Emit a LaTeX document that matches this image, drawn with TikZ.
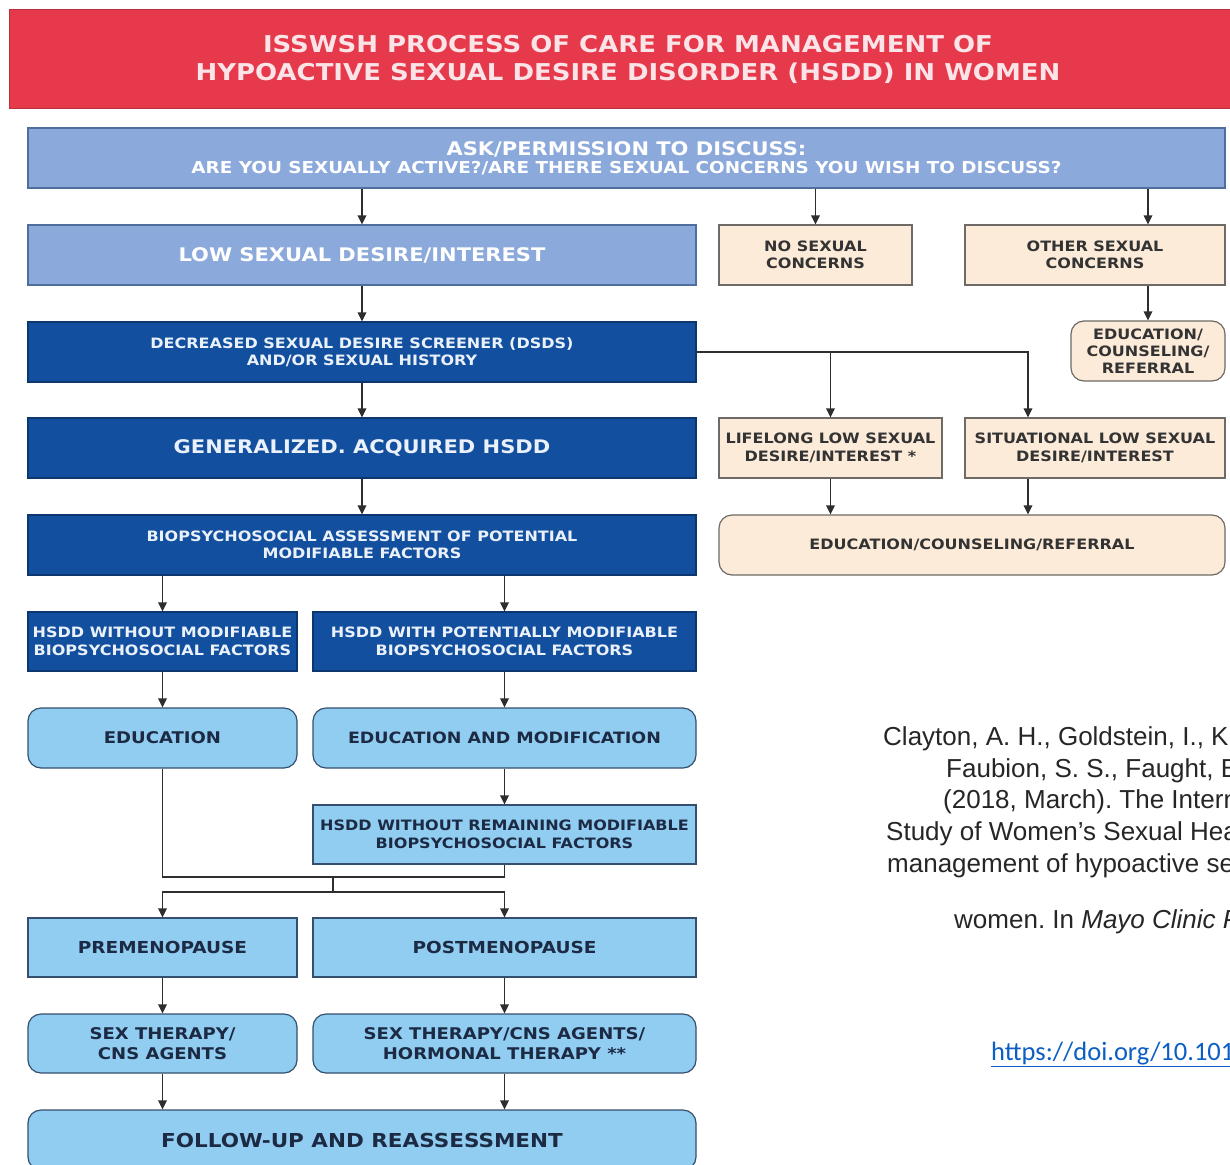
\documentclass[tikz,border=0pt]{standalone}
\usepackage{fontspec}
\setmainfont{Liberation Sans}
\newfontfamily\boxfont[FakeStretch=1.12]{DejaVu Sans}
\newfontfamily\headfont[FakeStretch=1.12]{DejaVu Sans}
\newfontfamily\linkfont{Carlito}
\usetikzlibrary{arrows.meta}
\frenchspacing

\definecolor{hdred}{HTML}{E6394B}
\definecolor{hdedge}{HTML}{B92F3D}
\definecolor{hdtext}{HTML}{FBE4E7}
\definecolor{askfill}{HTML}{8CA9DB}
\definecolor{askedge}{HTML}{4F6E9E}
\definecolor{dkfill}{HTML}{124F9E}
\definecolor{dkedge}{HTML}{0C3670}
\definecolor{dktext}{HTML}{EAF1FA}
\definecolor{skyfill}{HTML}{90CDF1}
\definecolor{skyedge}{HTML}{34506E}
\definecolor{skytext}{HTML}{1C2A44}
\definecolor{pcfill}{HTML}{FCEBD9}
\definecolor{pcedge}{HTML}{6E6A66}
\definecolor{pctext}{HTML}{333333}
\definecolor{lncol}{HTML}{2E2E2E}
\definecolor{citecol}{HTML}{262626}
\definecolor{linkcol}{HTML}{0B5FC4}

\tikzset{
  box/.style={draw, line width=1.2pt, inner sep=0pt, align=center},
  sz/.style 2 args={font=\boxfont\bfseries\fontsize{#1}{#2}\selectfont},
  askbox/.style={box, fill=askfill, draw=askedge, text=white},
  dkbox/.style={box, fill=dkfill, draw=dkedge, text=dktext},
  skybox/.style={box, fill=skyfill, draw=skyedge, text=skytext},
  pcbox/.style={box, fill=pcfill, draw=pcedge, text=pctext},
  rnd/.style={rounded corners=13pt},
  arr/.style={draw=lncol, line width=1.8pt, -{Triangle[length=9pt,width=8.5pt]}},
  ln/.style={draw=lncol, line width=1.8pt},
  citeline/.style={anchor=base west, inner sep=0pt, text=citecol,
    font=\fontsize{26}{30}\selectfont},
}

\begin{document}
\begin{tikzpicture}[x=1pt,y=-1pt]
\useasboundingbox (0,0) rectangle (1230,1164);
\clip (0,0) rectangle (1230,1164);
\fill[white] (0,0) rectangle (1230,1164);

% header bar
\node[fill=hdred, draw=hdedge, line width=1pt, inner sep=0pt, minimum width=1238pt,
      minimum height=98pt, text=hdtext, align=center,
      font=\headfont\bfseries\fontsize{23.2}{28}\selectfont] (title) at (628,59)
  {ISSWSH PROCESS OF CARE FOR MANAGEMENT OF\\HYPOACTIVE SEXUAL DESIRE DISORDER (HSDD) IN WOMEN};

% first question
\node[askbox, minimum width=1197pt, minimum height=60pt] (ask) at (626.5,158)
  {{\boxfont\bfseries\fontsize{18.75}{22}\selectfont ASK/PERMISSION TO DISCUSS:}\\[3pt]
   {\boxfont\bfseries\fontsize{16.4}{20}\selectfont ARE YOU SEXUALLY ACTIVE?/ARE THERE SEXUAL CONCERNS YOU WISH TO DISCUSS?}};

% main column
\node[askbox, sz={18.75}{23}, minimum width=668pt, minimum height=60pt] (low) at (362,255)
  {LOW SEXUAL DESIRE/INTEREST};
\node[dkbox, sz={14.3}{17.5}, minimum width=668pt, minimum height=60pt] (dsds) at (362,352)
  {DECREASED SEXUAL DESIRE SCREENER (DSDS)\\AND/OR SEXUAL HISTORY};
\node[dkbox, sz={18.75}{23}, minimum width=668pt, minimum height=60pt] (gen) at (362,448)
  {GENERALIZED. ACQUIRED HSDD};
\node[dkbox, sz={14.3}{17.5}, minimum width=668pt, minimum height=60pt] (bio) at (362,545)
  {BIOPSYCHOSOCIAL ASSESSMENT OF POTENTIAL\\MODIFIABLE FACTORS};

\node[dkbox, sz={14.3}{17.5}, minimum width=269pt, minimum height=59pt] (hwo) at (162.5,641.5)
  {HSDD WITHOUT MODIFIABLE\\BIOPSYCHOSOCIAL FACTORS};
\node[dkbox, sz={14.3}{17.5}, minimum width=383pt, minimum height=59pt] (hw) at (504.5,641.5)
  {HSDD WITH POTENTIALLY MODIFIABLE\\BIOPSYCHOSOCIAL FACTORS};

\node[skybox, rnd, sz={16.1}{20}, minimum width=269pt, minimum height=60pt] (edu) at (162.5,738)
  {EDUCATION};
\node[skybox, rnd, sz={15.6}{20}, minimum width=383pt, minimum height=60pt] (edm) at (504.5,738)
  {EDUCATION AND MODIFICATION};
\node[skybox, sz={14.3}{17.5}, minimum width=383pt, minimum height=59pt] (hrem) at (504.5,834.5)
  {HSDD WITHOUT REMAINING MODIFIABLE\\BIOPSYCHOSOCIAL FACTORS};

\node[skybox, sz={16.5}{20}, minimum width=269pt, minimum height=59pt] (pre) at (162.5,947.5)
  {PREMENOPAUSE};
\node[skybox, sz={16.5}{20}, minimum width=383pt, minimum height=59pt] (post) at (504.5,947.5)
  {POSTMENOPAUSE};
\node[skybox, rnd, sz={16.1}{20}, minimum width=269pt, minimum height=59pt] (sex1) at (162.5,1043.5)
  {SEX THERAPY/\\CNS AGENTS};
\node[skybox, rnd, sz={16.1}{20}, minimum width=383pt, minimum height=59pt] (sex2) at (504.5,1043.5)
  {SEX THERAPY/CNS AGENTS/\\HORMONAL THERAPY **};
\node[skybox, rnd, sz={19.2}{23}, minimum width=668pt, minimum height=60pt] (fu) at (362,1140)
  {FOLLOW-UP AND REASSESSMENT};

% right-hand branches
\node[pcbox, sz={14.3}{17.5}, minimum width=193pt, minimum height=60pt] (nosc) at (815.5,255)
  {NO SEXUAL\\CONCERNS};
\node[pcbox, sz={14.3}{17.5}, minimum width=260pt, minimum height=60pt] (other) at (1095,255)
  {OTHER SEXUAL\\CONCERNS};
\node[pcbox, rnd, sz={14.3}{17}, minimum width=154pt, minimum height=60pt] (ecr1) at (1148,351)
  {EDUCATION/\\COUNSELING/\\REFERRAL};
\node[pcbox, sz={14.3}{17.5}, minimum width=223pt, minimum height=60pt] (life) at (830.5,448)
  {LIFELONG LOW SEXUAL\\DESIRE/INTEREST *};
\node[pcbox, sz={14.3}{17.5}, minimum width=260pt, minimum height=60pt] (situ) at (1095,448)
  {SITUATIONAL LOW SEXUAL\\DESIRE/INTEREST};
\node[pcbox, rnd, sz={14.3}{17.5}, minimum width=506pt, minimum height=60pt] (ecr2) at (972,545)
  {EDUCATION/COUNSELING/REFERRAL};

\coordinate (sx) at (1028,0);
\coordinate (jt) at (333,877);
\coordinate (jb) at (333,892);

% connectors
\draw[arr] (ask.south -| low) -- (low.north);
\draw[arr] (ask.south -| nosc) -- (nosc.north);
\draw[arr] (ask.south -| ecr1) -- (other.north -| ecr1);
\draw[arr] (other.south -| ecr1) -- (ecr1.north);
\draw[arr] (low.south) -- (dsds.north);
\draw[arr] (dsds.south) -- (gen.north);
\draw[arr] (gen.south) -- (bio.north);
\draw[arr] (dsds.east) -| (situ.north -| sx);
\draw[arr] (dsds.east -| life) -- (life.north);
\draw[arr] (life.south) -- (ecr2.north -| life);
\draw[arr] (situ.south -| sx) -- (ecr2.north -| sx);
\draw[arr] (bio.south -| hwo) -- (hwo.north);
\draw[arr] (bio.south -| hw) -- (hw.north);
\draw[arr] (hwo.south) -- (edu.north);
\draw[arr] (hw.south) -- (edm.north);
\draw[arr] (edm.south) -- (hrem.north);
\draw[ln] (edu.south) -- (edu.south |- jt) -- (hrem.south |- jt) -- (hrem.south);
\draw[ln] (jt) -- (jb);
\draw[arr] (jb) -| (pre.north);
\draw[arr] (jb) -| (post.north);
\draw[arr] (pre.south) -- (sex1.north);
\draw[arr] (post.south) -- (sex2.north);
\draw[arr] (sex1.south) -- (fu.north -| sex1);
\draw[arr] (sex2.south) -- (fu.north -| sex2);

% reference text
\node[citeline] (c1) at (883,745) {Clayton, A. H., Goldstein, I., Kim,};
\node[citeline] (c2) at (946,777) {Faubion, S. S., Faught, B.};
\node[citeline] (c3) at (943,808) {(2018, March). The International};
\node[citeline] (c4) at (886,840) {Study of Women's Sexual Health};
\node[citeline] (c5) at (887,872) {management of hypoactive sexual};
\node[citeline] (c6) at (954,928) {women. In \textit{Mayo Clinic Proceedings}};
\node[citeline, text=linkcol, font=\linkfont\fontsize{26.5}{30}\selectfont] (c7) at (991,1060)
  {\underline{https://doi.org/10.1016/j.mayocp}};
\end{tikzpicture}
\end{document}
